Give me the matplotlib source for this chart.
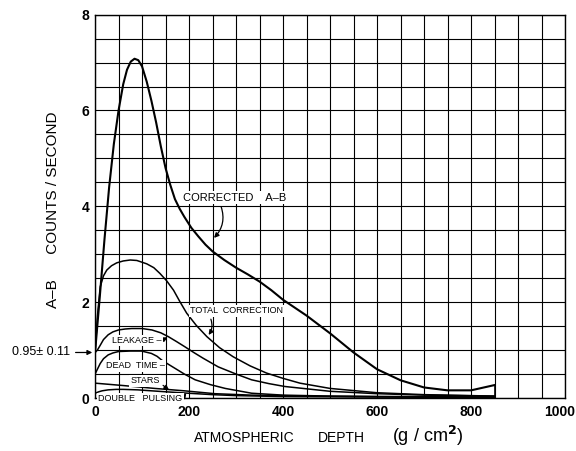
import matplotlib
matplotlib.use("Agg")
from matplotlib import pyplot as plt
from matplotlib.ticker import MultipleLocator

plt.rcParams['font.family'] = ['Liberation Sans', 'DejaVu Sans']

# curves (x in g/cm2, y in counts/second)
corr_x = [0, 10, 20, 30, 40, 50, 60, 68, 76, 84, 92, 100, 110, 120, 130, 140, 150, 160, 170,
          180, 190, 205, 220, 235, 250, 275, 300, 325, 350, 375, 400, 450, 500, 550, 600,
          650, 700, 750, 800, 850]
corr_y = [0.95, 2.1, 3.3, 4.4, 5.3, 6.0, 6.55, 6.85, 7.02, 7.08, 7.05, 6.92, 6.6, 6.2, 5.75,
          5.25, 4.8, 4.45, 4.15, 3.95, 3.78, 3.55, 3.37, 3.2, 3.06, 2.88, 2.72, 2.58, 2.43,
          2.25, 2.05, 1.72, 1.35, 0.95, 0.6, 0.37, 0.22, 0.16, 0.16, 0.27]

total_x = [0, 5, 11, 18, 25, 35, 46, 60, 75, 89, 110, 125, 138, 152, 167, 180, 195, 215,
           238, 265, 294, 330, 365, 400, 436, 500, 600, 700, 850]
total_y = [0.95, 1.7, 2.32, 2.55, 2.67, 2.76, 2.82, 2.86, 2.88, 2.87, 2.8, 2.72, 2.6, 2.45,
           2.25, 2.02, 1.77, 1.52, 1.28, 1.05, 0.86, 0.67, 0.52, 0.41, 0.31, 0.2, 0.11,
           0.07, 0.04]

leak_x = [0, 5, 11, 18, 28, 38, 50, 64, 78, 100, 121, 140, 156, 173, 191, 210, 230, 262,
          300, 333, 370, 404, 500, 600, 700, 850]
leak_y = [0.95, 1.0, 1.1, 1.22, 1.32, 1.38, 1.42, 1.44, 1.45, 1.45, 1.42, 1.36, 1.28, 1.18,
          1.07, 0.95, 0.83, 0.65, 0.5, 0.38, 0.3, 0.24, 0.14, 0.09, 0.06, 0.04]

dead_x = [0, 5, 11, 18, 28, 38, 50, 75, 99, 120, 132, 142, 155, 170, 190, 213, 245, 277,
          333, 400, 500, 600, 850]
dead_y = [0.5, 0.6, 0.72, 0.82, 0.9, 0.94, 0.97, 0.98, 0.98, 0.93, 0.87, 0.79, 0.71, 0.62,
          0.5, 0.38, 0.28, 0.2, 0.1, 0.06, 0.04, 0.03, 0.02]

stars_x = [0, 60, 127, 190, 255, 333, 450, 600, 850]
stars_y = [0.31, 0.26, 0.2, 0.15, 0.09, 0.06, 0.04, 0.03, 0.02]

dp_x = [0, 8, 15, 28, 45, 60, 91, 120, 150, 198, 250, 300, 400, 600, 850]
dp_y = [0.1, 0.13, 0.15, 0.17, 0.18, 0.18, 0.17, 0.15, 0.13, 0.1, 0.07, 0.05, 0.03, 0.02, 0.01]

x_ticks = [0, 200, 400, 600, 800, 1000]
y_ticks = [0, 2, 4, 6, 8]

fig = plt.figure(figsize=(5.76, 4.51), dpi=100)
ax = fig.add_axes([0.165, 0.1175, 0.816, 0.85])

ax.plot(corr_x, corr_y, color='black', lw=1.5, zorder=3)
ax.vlines(corr_x[-1], 0, corr_y[-1], color='black', lw=1.2, zorder=3)
for xs, ys in [(total_x, total_y), (leak_x, leak_y), (dead_x, dead_y),
               (stars_x, stars_y), (dp_x, dp_y)]:
    ax.plot(xs, ys, color='black', lw=1.1, zorder=3)

ax.set_xlim(0, 1000)
ax.set_ylim(0, 8)
# last x label is drawn by hand, shifted a little so it stays inside the figure
ax.set_xticks(x_ticks, labels=[str(v) for v in x_ticks[:-1]] + [''])
ax.set_yticks(y_ticks, labels=[str(v) for v in y_ticks])
ax.xaxis.set_minor_locator(MultipleLocator(50))
ax.yaxis.set_minor_locator(MultipleLocator(0.5))
ax.grid(which='both', color='black', lw=0.8)
ax.tick_params(which='both', length=0)
ax.tick_params(axis='x', pad=5)
ax.tick_params(axis='y', pad=4)
for lab in ax.get_xticklabels() + ax.get_yticklabels():
    lab.set_fontsize(10)
    lab.set_fontweight('bold')
ax.annotate(str(x_ticks[-1]), xy=(x_ticks[-1], 0), xytext=(-5, -7),
            textcoords='offset pixels', ha='center', va='top', fontsize=10,
            fontweight='bold', annotation_clip=False)
for sp in ax.spines.values():
    sp.set_linewidth(1.0)

box = dict(facecolor='white', edgecolor='none', pad=1)
arrow = dict(arrowstyle='-|>', color='black', lw=0.9, mutation_scale=7)

ax.annotate('CORRECTED    A\u2013B', xy=(249, 3.3), xytext=(298, 4.18), fontsize=8,
            ha='center', va='center', bbox=box, zorder=5,
            arrowprops=dict(arrow, connectionstyle='arc3,rad=-0.35',
                            relpos=(0.35, 0.0)))
ax.annotate('TOTAL  CORRECTION', xy=(238, 1.27), xytext=(302, 1.82), fontsize=6.5,
            ha='center', va='center', bbox=box, zorder=5,
            arrowprops=dict(arrow, connectionstyle='arc3,rad=-0.35',
                            relpos=(0.2, 0.0)))
ax.annotate('LEAKAGE \u2013', xy=(160, 1.29), xytext=(88, 1.2), fontsize=6.5,
            ha='center', va='center', bbox=box, zorder=5,
            arrowprops=dict(arrow, relpos=(1.0, 0.5)))
ax.annotate('DEAD  TIME \u2013', xy=(153, 0.74), xytext=(86, 0.67), fontsize=6.5,
            ha='center', va='center', bbox=box, zorder=5,
            arrowprops=dict(arrow, relpos=(1.0, 0.5)))
ax.annotate('STARS', xy=(162, 0.13), xytext=(106, 0.36), fontsize=6.5,
            ha='center', va='center', bbox=box, zorder=5,
            arrowprops=dict(arrow, relpos=(1.0, 0.3)))
ax.annotate('DOUBLE   PULSING', xy=(194, 0.1), xytext=(96, -0.02), fontsize=6.5,
            ha='center', va='center', bbox=box, zorder=5, annotation_clip=False,
            arrowprops=dict(arrow, relpos=(1.0, 0.5)))
ax.annotate('0.95\u00b1 0.11', xy=(0, 0.95), xytext=(-25, 0), textcoords='offset pixels',
            fontsize=9, ha='right', va='center', annotation_clip=False,
            arrowprops=dict(arrow))

fig.text(0.092, 0.534, 'A\u2013B      COUNTS / SECOND', rotation=90, fontsize=11,
         ha='center', va='center')
fig.text(0.336, 0.02, 'ATMOSPHERIC', fontsize=10, ha='left', va='baseline')
fig.text(0.552, 0.02, 'DEPTH', fontsize=10, ha='left', va='baseline')
fig.text(0.68, 0.02, '(g / cm$^{\\mathbf{2}}$)', fontsize=13, ha='left', va='baseline')

fig.savefig('out.png', dpi=100)
